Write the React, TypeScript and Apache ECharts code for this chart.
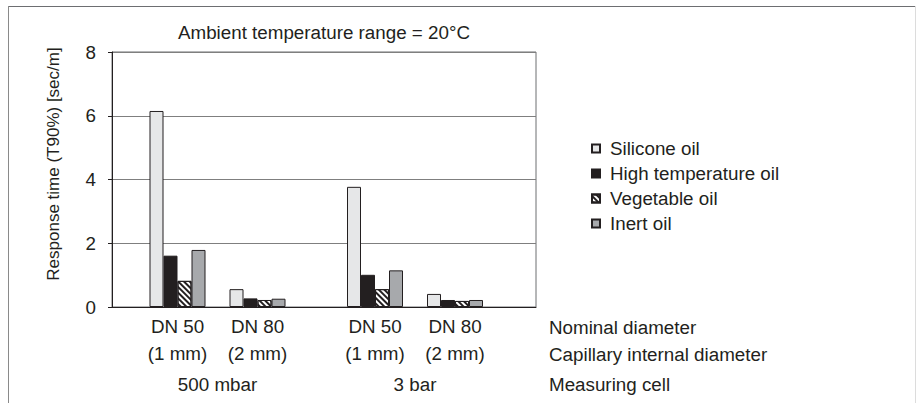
import React, { useEffect, useRef } from "react";
import * as echarts from "echarts";

// Categories and labels
const diameterLabels = ["DN 50\n(1 mm)", "DN 80\n(2 mm)"];
const cellLabels = ["500 mbar", "3 bar"];
const rowLabels = ["Nominal diameter", "Capillary internal diameter", "Measuring cell"];
const yTicks = [0, 2, 4, 6, 8];
const titleText = "Ambient temperature range = 20°C";
const yAxisTitle = "Response time (T90%) [sec/m]";

// Values, order: 500 mbar DN50, 500 mbar DN80, 3 bar DN50, 3 bar DN80
const oilNames = ["Silicone oil", "High temperature oil", "Vegetable oil", "Inert oil"];
const siliconeOil = [6.15, 0.56, 3.77, 0.41];
const highTempOil = [1.61, 0.27, 1.01, 0.22];
const vegetableOil = [0.82, 0.22, 0.56, 0.19];
const inertOil = [1.79, 0.26, 1.15, 0.22];

const INK = "#231f20";
const FONT = "'Liberation Sans', Arial, Helvetica, sans-serif";
const FS = 18.8;

export default function App() {
  const ref = useRef<HTMLDivElement>(null);
  useEffect(() => {
    if (!ref.current) return;
    const chart = echarts.init(ref.current, undefined, { renderer: "svg" });
    const allValues = [siliconeOil, highTempOil, vegetableOil, inertOil];
    const styles: any[] = [
      { color: "#e6e7e8", borderColor: INK, borderWidth: 1 },
      { color: INK, borderColor: INK, borderWidth: 1 },
      {
        color: "#ffffff",
        borderColor: INK,
        borderWidth: 1,
        decal: {
          symbol: "rect",
          symbolSize: 1,
          color: INK,
          dashArrayX: [1, 0],
          dashArrayY: [1.5, 1.8],
          rotation: Math.PI / 4,
        },
      },
      { color: "#a7a9ac", borderColor: INK, borderWidth: 1 },
    ];
    const series: any[] = [];
    oilNames.forEach((name, i) => {
      [0, 1].forEach((g) => {
        series.push({
          type: "bar",
          name,
          xAxisIndex: g + 1,
          yAxisIndex: g + 1,
          data: allValues[i].slice(g * 2, g * 2 + 2),
          barWidth: 14,
          barGap: "0%",
          itemStyle: styles[i],
          emphasis: { disabled: true },
        });
      });
    });

    const top = 52;
    const height = 255;
    const catAxis = (g: number) => ({
      type: "category",
      gridIndex: g + 1,
      data: diameterLabels,
      axisLine: { show: false },
      axisTick: { show: false },
      axisLabel: { fontSize: FS, lineHeight: 27, margin: 6, color: INK, fontFamily: FONT },
      name: cellLabels[g],
      nameLocation: "middle",
      nameGap: 68,
      nameTextStyle: { fontSize: FS, color: INK, fontFamily: FONT },
    });

    chart.setOption({
      animation: false,
      textStyle: { fontFamily: FONT },
      grid: [
        { left: 112, top, width: 424, height, show: true, borderColor: "#6d6e71", borderWidth: 1 },
        { left: 137.5, top, width: 160, height },
        { left: 335, top, width: 160, height },
      ],
      xAxis: [
        {
          type: "category",
          gridIndex: 0,
          data: [""],
          axisLine: { show: true, lineStyle: { color: INK, width: 1 } },
          axisTick: { show: false },
          axisLabel: { show: false },
        },
        catAxis(0),
        catAxis(1),
      ],
      yAxis: [
        {
          type: "value",
          gridIndex: 0,
          min: yTicks[0],
          max: yTicks[yTicks.length - 1],
          interval: 2,
          axisLine: { show: true, lineStyle: { color: INK, width: 1 } },
          axisTick: { show: true, length: 4, lineStyle: { color: INK } },
          splitLine: { lineStyle: { color: "#7f7f7f", width: 1 } },
          axisLabel: { fontSize: FS, color: INK, margin: 16, fontFamily: FONT },
        },
        { type: "value", gridIndex: 1, min: 0, max: 8, show: false },
        { type: "value", gridIndex: 2, min: 0, max: 8, show: false },
      ],
      legend: {
        data: oilNames,
        orient: "vertical",
        left: 586,
        top: 134,
        itemWidth: 8,
        itemHeight: 8,
        itemGap: 6,
        icon: "rect",
        selectedMode: false,
        textStyle: { fontSize: FS, lineHeight: 18, color: INK, fontFamily: FONT, padding: [0, 0, 0, 5] },
      },
      graphic: [
        { type: "line", shape: { x1: 8, y1: 6.5, x2: 916, y2: 6.5 }, style: { stroke: "#6d6e71", lineWidth: 1 } },
        { type: "line", shape: { x1: 8.5, y1: 6, x2: 8.5, y2: 403 }, style: { stroke: "#8a8a8a", lineWidth: 1 } },
        { type: "line", shape: { x1: 915.5, y1: 6, x2: 915.5, y2: 403 }, style: { stroke: "#dcdcdc", lineWidth: 1 } },
        {
          type: "text",
          x: 324,
          y: 32,
          style: { text: titleText, fill: INK, font: `${FS}px ${FONT}`, textAlign: "center", textVerticalAlign: "middle" },
        },
        {
          type: "text",
          x: 53,
          y: 164,
          rotation: Math.PI / 2,
          style: { text: yAxisTitle, fill: INK, font: `17px ${FONT}`, textAlign: "center", textVerticalAlign: "middle" },
        },
        ...rowLabels.map((t, i) => ({
          type: "text",
          x: 549,
          y: [327, 354, 384][i],
          style: { text: t, fill: INK, font: `${FS}px ${FONT}`, textAlign: "left", textVerticalAlign: "middle" },
        })),
      ],
      series,
    });
    return () => chart.dispose();
  }, []);
  return <div ref={ref} style={{ position: "absolute", left: 0, top: 0, width: 916, height: 403, background: "#fff" }} />;
}
